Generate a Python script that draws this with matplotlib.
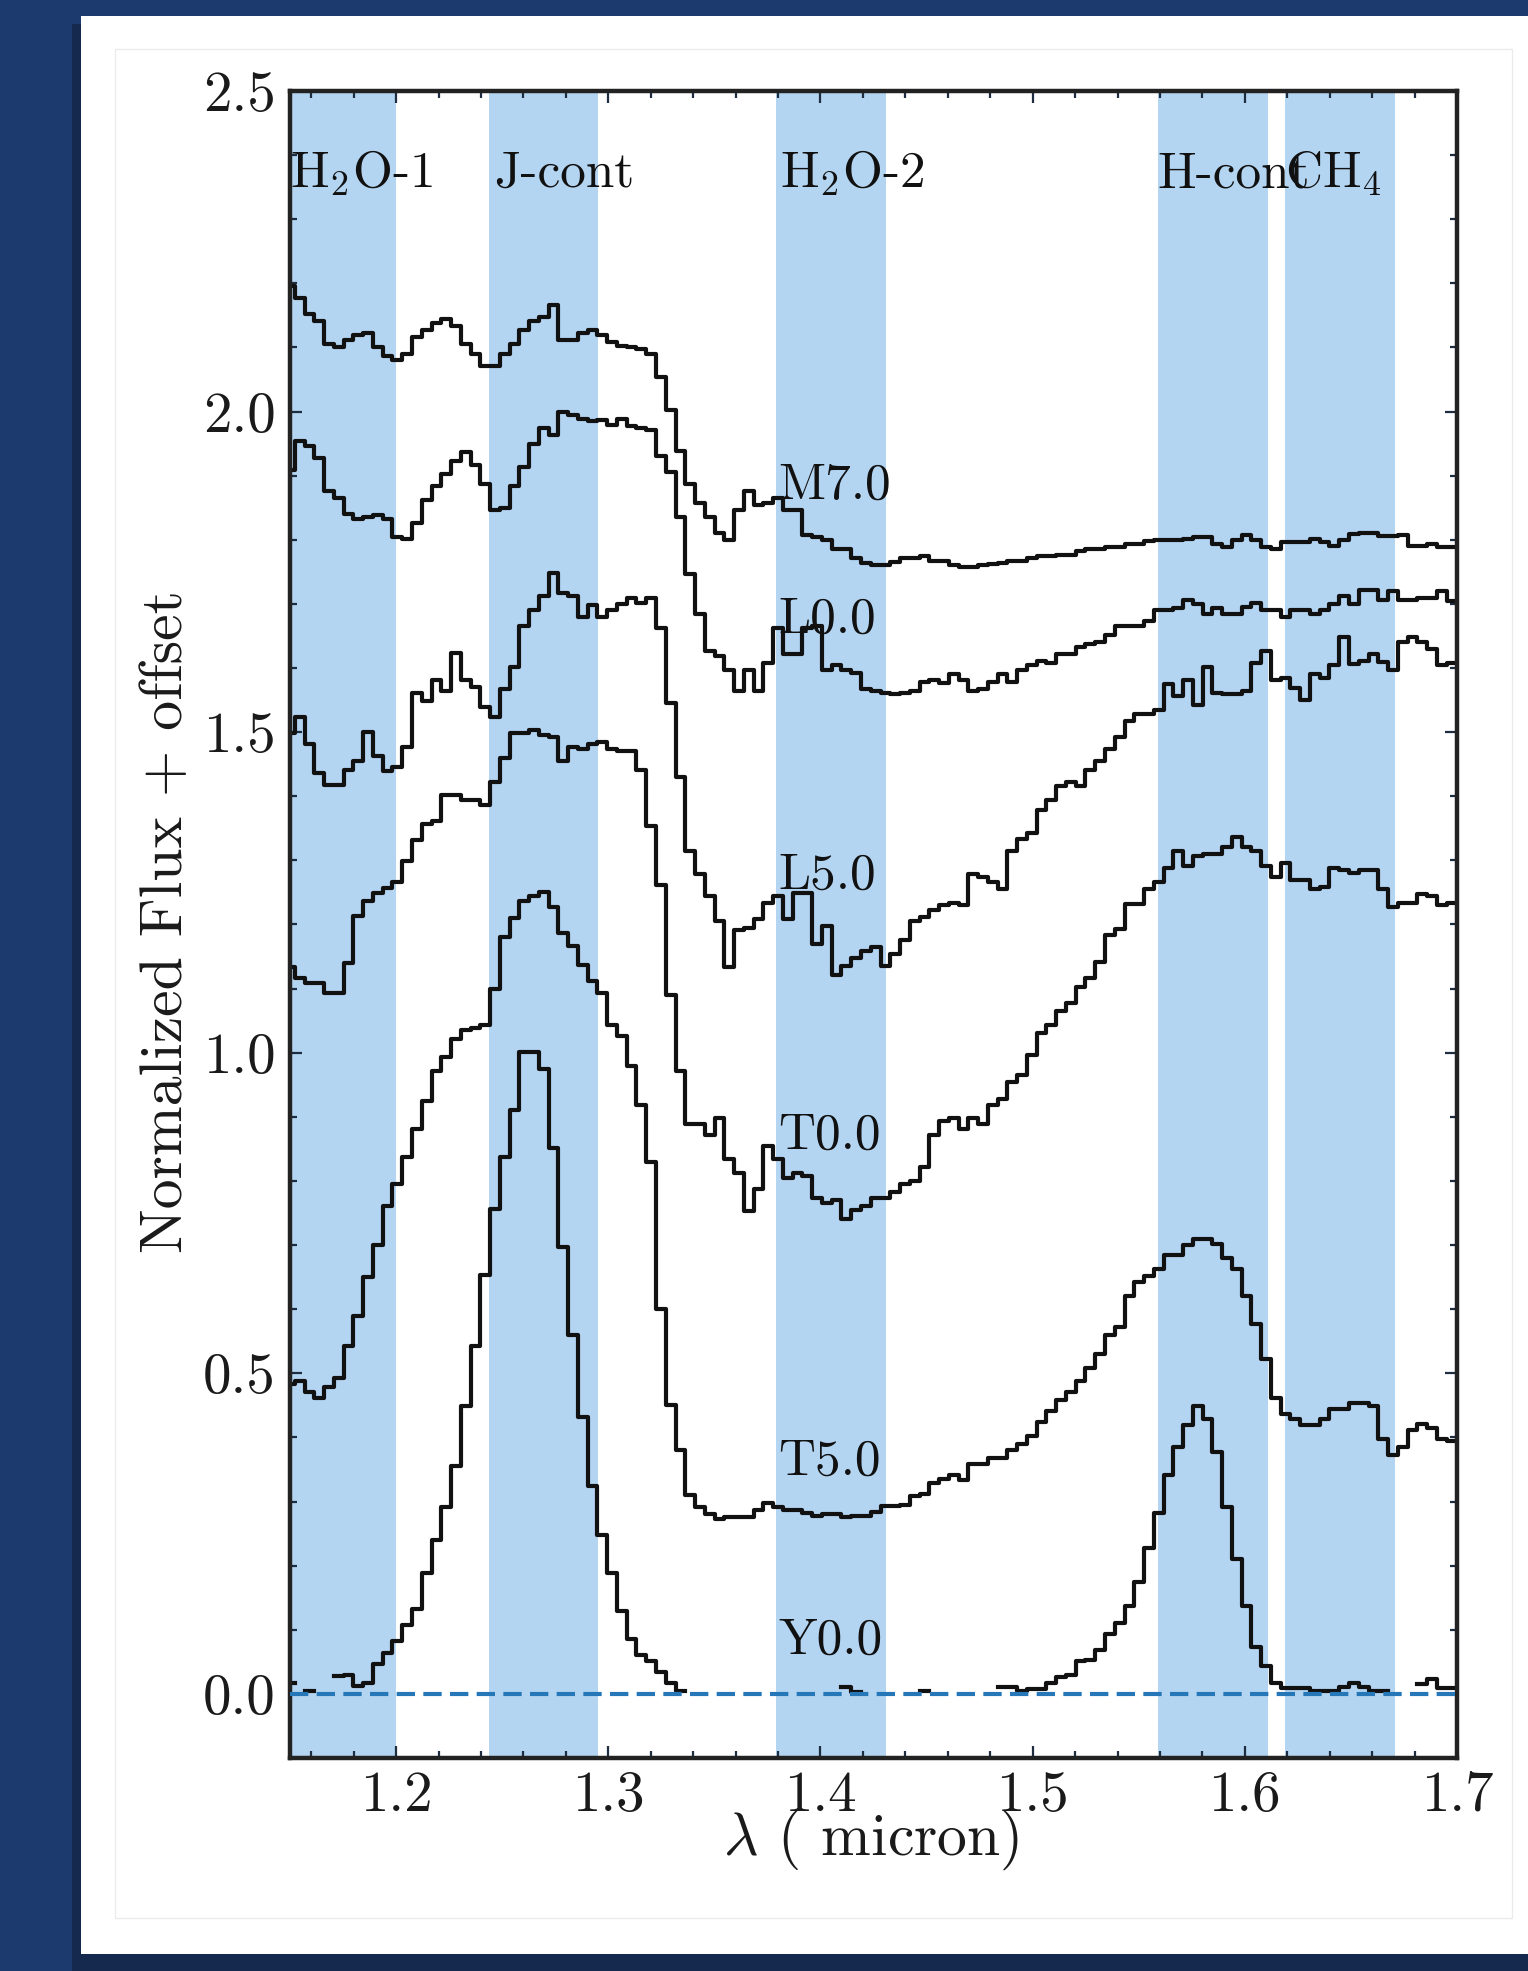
import numpy as np
import matplotlib
matplotlib.use("Agg")
import matplotlib.pyplot as plt
from matplotlib.patches import Rectangle
from matplotlib.ticker import FixedLocator, MultipleLocator, FormatStrFormatter

nan = float("nan")

# ---------------- data ----------------
bin_start = 1.15
bin_width = 0.0046
n_bins = 121
wavelength = np.round(bin_start + bin_width * np.arange(n_bins), 4)

flux_M7 = [2.196, 2.177, 2.152, 2.141, 2.105, 2.101, 2.112, 2.119, 2.123, 2.101,
           2.087, 2.080, 2.090, 2.116, 2.127, 2.138, 2.145, 2.134, 2.105, 2.090,
           2.071, 2.071, 2.090, 2.105, 2.127, 2.141, 2.148, 2.167, 2.112, 2.112,
           2.123, 2.127, 2.119, 2.109, 2.103, 2.101, 2.098, 2.090, 2.054, 2.003,
           1.938, 1.887, 1.858, 1.836, 1.811, 1.800, 1.847, 1.876, 1.855, 1.858,
           1.865, 1.847, 1.847, 1.807, 1.804, 1.800, 1.786, 1.786, 1.771, 1.764,
           1.760, 1.760, 1.765, 1.771, 1.771, 1.775, 1.767, 1.767, 1.760, 1.758,
           1.758, 1.760, 1.762, 1.764, 1.767, 1.767, 1.771, 1.775, 1.775, 1.777,
           1.777, 1.782, 1.786, 1.786, 1.789, 1.789, 1.793, 1.793, 1.798, 1.800,
           1.800, 1.800, 1.802, 1.805, 1.805, 1.793, 1.789, 1.800, 1.807, 1.800,
           1.789, 1.786, 1.796, 1.796, 1.796, 1.802, 1.796, 1.791, 1.800, 1.809,
           1.811, 1.811, 1.806, 1.806, 1.807, 1.791, 1.791, 1.793, 1.789, 1.789,
           1.789]

flux_L0 = [1.909, 1.954, 1.947, 1.927, 1.876, 1.865, 1.840, 1.833, 1.836, 1.838,
           1.833, 1.804, 1.802, 1.826, 1.862, 1.884, 1.902, 1.923, 1.937, 1.916,
           1.887, 1.846, 1.849, 1.884, 1.913, 1.949, 1.974, 1.963, 1.999, 1.995,
           1.989, 1.985, 1.987, 1.979, 1.989, 1.978, 1.974, 1.971, 1.931, 1.905,
           1.836, 1.746, 1.684, 1.626, 1.619, 1.597, 1.564, 1.597, 1.564, 1.608,
           1.662, 1.622, 1.622, 1.662, 1.666, 1.597, 1.604, 1.597, 1.593, 1.568,
           1.564, 1.561, 1.559, 1.561, 1.564, 1.579, 1.581, 1.577, 1.590, 1.582,
           1.564, 1.568, 1.579, 1.590, 1.579, 1.597, 1.604, 1.611, 1.608, 1.622,
           1.622, 1.633, 1.637, 1.640, 1.651, 1.666, 1.666, 1.666, 1.673, 1.691,
           1.691, 1.693, 1.706, 1.700, 1.684, 1.693, 1.685, 1.685, 1.695, 1.702,
           1.691, 1.691, 1.680, 1.691, 1.691, 1.685, 1.691, 1.700, 1.713, 1.700,
           1.722, 1.722, 1.706, 1.720, 1.706, 1.706, 1.709, 1.709, 1.720, 1.704,
           1.704]

flux_L5 = [1.499, 1.524, 1.481, 1.437, 1.417, 1.417, 1.441, 1.455, 1.501, 1.463,
           1.439, 1.445, 1.477, 1.561, 1.548, 1.582, 1.564, 1.624, 1.582, 1.571,
           1.539, 1.523, 1.568, 1.601, 1.666, 1.691, 1.713, 1.749, 1.717, 1.713,
           1.680, 1.699, 1.680, 1.691, 1.700, 1.709, 1.702, 1.709, 1.662, 1.546,
           1.430, 1.314, 1.278, 1.245, 1.205, 1.133, 1.191, 1.195, 1.209, 1.234,
           1.245, 1.209, 1.249, 1.249, 1.169, 1.198, 1.122, 1.136, 1.147, 1.158,
           1.165, 1.136, 1.154, 1.176, 1.205, 1.212, 1.223, 1.230, 1.234, 1.230,
           1.278, 1.274, 1.267, 1.256, 1.314, 1.334, 1.343, 1.379, 1.394, 1.416,
           1.423, 1.416, 1.441, 1.455, 1.474, 1.492, 1.517, 1.528, 1.528, 1.535,
           1.575, 1.557, 1.582, 1.543, 1.601, 1.561, 1.559, 1.559, 1.564, 1.608,
           1.626, 1.582, 1.584, 1.569, 1.550, 1.590, 1.584, 1.604, 1.648, 1.606,
           1.611, 1.622, 1.610, 1.597, 1.640, 1.648, 1.640, 1.630, 1.604, 1.608,
           1.608]

flux_T0 = [1.133, 1.116, 1.108, 1.108, 1.093, 1.093, 1.140, 1.214, 1.236, 1.249,
           1.257, 1.267, 1.299, 1.332, 1.357, 1.361, 1.402, 1.402, 1.394, 1.394,
           1.386, 1.423, 1.459, 1.499, 1.499, 1.503, 1.495, 1.492, 1.455, 1.477,
           1.473, 1.481, 1.484, 1.473, 1.470, 1.470, 1.441, 1.354, 1.261, 1.090,
           0.971, 0.889, 0.889, 0.872, 0.898, 0.834, 0.812, 0.753, 0.787, 0.855,
           0.834, 0.804, 0.813, 0.808, 0.774, 0.766, 0.770, 0.740, 0.754, 0.761,
           0.774, 0.774, 0.783, 0.795, 0.800, 0.821, 0.872, 0.894, 0.898, 0.881,
           0.898, 0.889, 0.919, 0.928, 0.954, 0.966, 0.996, 1.031, 1.043, 1.065,
           1.078, 1.103, 1.116, 1.142, 1.184, 1.193, 1.232, 1.232, 1.255, 1.266,
           1.288, 1.314, 1.292, 1.307, 1.310, 1.310, 1.321, 1.336, 1.321, 1.314,
           1.292, 1.274, 1.296, 1.270, 1.270, 1.256, 1.259, 1.288, 1.285, 1.281,
           1.285, 1.285, 1.256, 1.227, 1.234, 1.234, 1.248, 1.245, 1.230, 1.234,
           1.234]

flux_T5 = [0.483, 0.488, 0.471, 0.462, 0.479, 0.492, 0.543, 0.590, 0.650, 0.700,
           0.761, 0.795, 0.838, 0.881, 0.924, 0.971, 0.994, 1.022, 1.035, 1.039,
           1.043, 1.100, 1.180, 1.210, 1.236, 1.244, 1.250, 1.227, 1.187, 1.167,
           1.137, 1.112, 1.093, 1.043, 1.026, 0.979, 0.919, 0.830, 0.600, 0.450,
           0.380, 0.310, 0.291, 0.281, 0.272, 0.276, 0.276, 0.276, 0.287, 0.298,
           0.291, 0.287, 0.287, 0.282, 0.278, 0.281, 0.281, 0.276, 0.278, 0.278,
           0.284, 0.293, 0.293, 0.295, 0.308, 0.312, 0.329, 0.335, 0.342, 0.334,
           0.359, 0.359, 0.368, 0.368, 0.381, 0.389, 0.402, 0.424, 0.441, 0.458,
           0.471, 0.488, 0.509, 0.530, 0.560, 0.573, 0.620, 0.642, 0.652, 0.663,
           0.684, 0.684, 0.700, 0.710, 0.710, 0.701, 0.680, 0.663, 0.620, 0.577,
           0.522, 0.462, 0.436, 0.428, 0.419, 0.419, 0.428, 0.445, 0.445, 0.453,
           0.453, 0.449, 0.398, 0.372, 0.385, 0.411, 0.421, 0.415, 0.398, 0.394,
           0.394]

flux_Y0 = [0.017, nan, 0.005, nan, nan, 0.028, 0.030, 0.013, 0.017, 0.047,
           0.064, 0.082, 0.107, 0.133, 0.188, 0.240, 0.291, 0.355, 0.449, 0.543,
           0.654, 0.757, 0.838, 0.911, 1.001, 1.001, 0.975, 0.851, 0.697, 0.560,
           0.432, 0.325, 0.248, 0.188, 0.129, 0.086, 0.060, 0.051, 0.034, 0.017,
           0.005, nan, nan, nan, nan, nan, nan, nan, nan, nan,
           nan, nan, nan, nan, nan, nan, nan, 0.011, 0.003, nan,
           nan, nan, nan, nan, nan, 0.005, nan, nan, nan, nan,
           nan, nan, nan, 0.011, 0.011, 0.005, 0.008, 0.008, 0.017, 0.026,
           0.030, 0.051, 0.053, 0.068, 0.094, 0.111, 0.137, 0.175, 0.227, 0.282,
           0.342, 0.385, 0.419, 0.449, 0.428, 0.377, 0.291, 0.210, 0.137, 0.073,
           0.043, 0.017, 0.009, 0.009, 0.009, 0.005, 0.005, 0.005, 0.011, 0.017,
           0.011, 0.005, 0.005, nan, nan, nan, 0.015, 0.023, 0.009, 0.009,
           0.009]

spectra = [flux_M7, flux_L0, flux_L5, flux_T0, flux_T5, flux_Y0]
spt_labels = ["M7.0", "L0.0", "L5.0", "T0.0", "T5.0", "Y0.0"]
spt_label_y = [1.864, 1.655, 1.256, 0.851, 0.342, 0.062]
spt_label_x = 1.38

band_names = ["H$_2$O-1", "J-cont", "H$_2$O-2", "H-cont", "CH$_4$"]
band_lo = [1.14, 1.244, 1.379, 1.559, 1.619]
band_hi = [1.200, 1.295, 1.431, 1.611, 1.671]
band_text_x = [1.15, 1.246, 1.381, 1.559, 1.619]
band_text_y = 2.35

xticks = [1.2, 1.3, 1.4, 1.5, 1.6, 1.7]
yticks = [0.0, 0.5, 1.0, 1.5, 2.0, 2.5]

# ---------------- style ----------------
plt.rcParams.update({
    "font.family": "serif",
    "font.serif": ["cmr10"],
    "mathtext.fontset": "cm",
    "axes.unicode_minus": False,
    "axes.formatter.use_mathtext": True,
})

W, H = 1528, 1971
fig = plt.figure(figsize=(W / 100, H / 100), dpi=100, facecolor="#1d3a6e")


def px_rect(x0, y0, x1, y1, z, **kw):
    r = Rectangle((x0 / W, 1 - y1 / H), (x1 - x0) / W, (y1 - y0) / H,
                  transform=fig.transFigure, figure=fig, zorder=z, **kw)
    fig.patches.append(r)


px_rect(72, 24, W, H, -30, facecolor="#15294f", edgecolor="none")
px_rect(81, 16, W, 1954, -20, facecolor="white", edgecolor="none")
px_rect(115, 49, 1512, 1918, -10, facecolor="white", edgecolor="#ebebeb", linewidth=1)

ax = fig.add_axes([290 / W, 1 - 1758 / H, (1457 - 290) / W, (1758 - 91) / H])
ax.set_zorder(5)
ax.set_facecolor("white")

for lo, hi in zip(band_lo, band_hi):
    ax.axvspan(lo, hi, color="#b4d5f2", lw=0, zorder=0)

for flux in spectra:
    ax.step(wavelength, flux, where="mid", color="#111111", lw=3.0, zorder=2)

ax.axhline(0.0, color="#2677b8", lw=3.0, ls=(0, (4.4, 2.0)), zorder=3)

for name, x in zip(band_names, band_text_x):
    ax.text(x, band_text_y, name, fontsize=37, color="#111111", zorder=4)

for lab, y in zip(spt_labels, spt_label_y):
    ax.text(spt_label_x, y, lab, fontsize=37, color="#111111", zorder=4)

ax.set_xlim(1.15, 1.70)
ax.set_ylim(-0.1, 2.5)
ax.xaxis.set_major_locator(FixedLocator(xticks))
ax.yaxis.set_major_locator(FixedLocator(yticks))
ax.xaxis.set_minor_locator(MultipleLocator(0.02))
ax.yaxis.set_minor_locator(MultipleLocator(0.1))
ax.xaxis.set_major_formatter(FormatStrFormatter("%.1f"))
ax.yaxis.set_major_formatter(FormatStrFormatter("%.1f"))
ax.tick_params(which="both", direction="in", top=True, right=True,
               color="#1e2d40", width=1.6)
ax.tick_params(which="major", length=8.5, labelsize=41, labelcolor="#1a1a1a")
ax.tick_params(axis="x", which="major", pad=9)
ax.tick_params(axis="y", which="major", pad=10.5)
ax.tick_params(which="minor", length=5)
for sp in ax.spines.values():
    sp.set_linewidth(3.2)
    sp.set_color("#222222")

fig.text(167 / W, 1 - 922 / H, "Normalized Flux + offset", rotation=90,
         ha="center", va="center", fontsize=43, color="#1a1a1a", zorder=6)
fig.text(871 / W, 1 - 1840 / H, r"$\lambda$ ( micron)",
         ha="center", va="center", fontsize=43, color="#1a1a1a", zorder=6)

fig.savefig("out.png", dpi=100, facecolor=fig.get_facecolor())
